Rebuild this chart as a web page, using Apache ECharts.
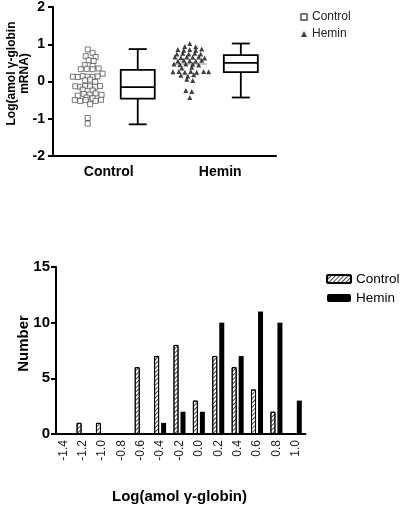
<!DOCTYPE html>
<html>
<head>
<meta charset="utf-8">
<script src="https://cdn.jsdelivr.net/npm/echarts@6/dist/echarts.min.js"></script>
<style>
html,body{margin:0;padding:0;background:#fff;}
#topChart{position:absolute;left:0;top:0;width:400px;height:230px;}
#botChart{position:absolute;left:0;top:230px;width:400px;height:276px;}
</style>
</head>
<body>
<div id="topChart"></div>
<div id="botChart"></div>
<script>
// ---------- DATA (top: individual values, x = swarm position on hidden axis) ----------
const groupNames = ['Control', 'Hemin'];
const controlPoints = [
  [7.0, 0.86], [8.0, 0.77], [6.6, 0.68], [8.6, 0.66], [7.2, 0.57], [8.2, 0.55],
  [6.4, 0.44], [8.0, 0.42], [5.6, 0.33], [6.8, 0.34], [8.0, 0.33], [9.2, 0.35],
  [10.0, 0.21], [4.0, 0.13], [5.0, 0.12], [6.0, 0.14], [7.0, 0.13], [8.0, 0.12], [9.0, 0.14],
  [6.5, 0.03], [7.5, 0.05], [8.5, -0.01],
  [4.5, -0.13], [5.5, -0.14], [6.5, -0.12], [7.5, -0.13], [8.5, -0.14], [9.5, -0.12],
  [6.0, -0.22], [8.0, -0.24],
  [5.0, -0.38], [6.2, -0.33], [7.4, -0.35], [8.6, -0.32], [9.8, -0.36], [6.8, -0.43], [8.0, -0.45],
  [4.4, -0.50], [5.5, -0.52], [6.6, -0.50], [8.6, -0.52], [9.7, -0.49], [7.5, -0.61],
  [7.0, -0.98], [7.0, -1.13]
];
const heminPoints = [
  [27.6, 1.02], [26.6, 0.94], [28.8, 0.93],
  [25.2, 0.86], [26.4, 0.84], [27.6, 0.86], [28.8, 0.84], [30.0, 0.87],
  [25.0, 0.74], [26.2, 0.76], [27.4, 0.74], [28.6, 0.76], [29.8, 0.74],
  [24.6, 0.66], [25.8, 0.64], [27.0, 0.66], [28.2, 0.65], [29.4, 0.66], [30.6, 0.63],
  [25.2, 0.55], [26.4, 0.57], [27.6, 0.56], [28.8, 0.55], [30.0, 0.57],
  [24.4, 0.47], [25.6, 0.45], [26.8, 0.47], [28.2, 0.46], [29.4, 0.44], [26.0, 0.36], [28.0, 0.38],
  [24.2, 0.26], [25.4, 0.27], [26.6, 0.25], [27.8, 0.27], [29.0, 0.25], [30.4, 0.27], [31.4, 0.26],
  [25.8, 0.17], [27.2, 0.15], [28.4, 0.18],
  [27.0, 0.06], [28.2, 0.03],
  [26.8, -0.24], [28.0, -0.27],
  [27.6, -0.43]
];
const scatterCenters = [7.0, 27.6];
const scatterMedians = [-0.13, 0.47];
// box: [x, min, Q1, median, Q3, max]
const boxData = [
  [17.1, -1.15, -0.46, -0.15, 0.31, 0.87],
  [37.9, -0.43, 0.25, 0.50, 0.71, 1.02]
];
const topYTicks = [-2, -1, 0, 1, 2];

// ---------- DATA (bottom histogram) ----------
const binLabels = ['-1.4','-1.2','-1.0','-0.8','-0.6','-0.4','-0.2','0.0','0.2','0.4','0.6','0.8','1.0'];
const controlCounts = [0, 1, 1, 0, 6, 7, 8, 3, 7, 6, 4, 2, 0];
const heminCounts   = [0, 0, 0, 0, 0, 1, 2, 2, 10, 7, 11, 10, 3];

// ---------- STYLE ----------
const FONT = 'Liberation Sans, Arial, sans-serif';
const BOX_W = 34, CAP_W = 18, LW = 1.8, MED_HALF = 3.0;

const chartTop = echarts.init(document.getElementById('topChart'), null, {renderer: 'canvas'});
chartTop.setOption({
  animation: false,
  textStyle: {fontFamily: FONT},
  legend: {
    orient: 'vertical', left: 300, top: 11, padding: 0, itemWidth: 6, itemHeight: 6, itemGap: 5, itemTextGap: 11,
    textStyle: {fontSize: 12, color: '#222', fontFamily: FONT},
    data: ['Control', 'Hemin']
  },
  grid: {left: 53, top: 7, width: 223, height: 149, outerBoundsMode: 'none', containLabel: false},
  xAxis: [
    {type: 'category', data: groupNames, boundaryGap: true,
     axisLine: {onZero: false, lineStyle: {color: '#000', width: 2}}, axisTick: {show: false},
     axisLabel: {fontSize: 14, fontWeight: 'bold', color: '#000', margin: 9}},
    {type: 'value', min: 0, max: 45, show: false}
  ],
  yAxis: {
    type: 'value', min: topYTicks[0], max: topYTicks[topYTicks.length - 1], interval: 1,
    name: 'Log(amol γ-globin\nmRNA)', nameLocation: 'middle', nameGap: 22, nameMoveOverlap: false,
    nameTextStyle: {fontSize: 12, fontWeight: 'bold', color: '#000', lineHeight: 13, padding: [0, 0, 0, 16]},
    axisLine: {show: true, lineStyle: {color: '#000', width: 2}},
    axisTick: {show: true, length: 5, lineStyle: {color: '#000', width: 2}},
    axisLabel: {fontSize: 14, fontWeight: 'bold', color: '#000', margin: 8},
    splitLine: {show: false}
  },
  series: [
    {name: 'Control', type: 'scatter', xAxisIndex: 1, data: controlPoints, symbol: 'rect', symbolSize: 5,
     itemStyle: {color: '#fff', borderColor: '#555', borderWidth: 1}, z: 3},
    {name: 'Hemin', type: 'scatter', xAxisIndex: 1, data: heminPoints, symbol: 'triangle', symbolSize: 5,
     itemStyle: {color: '#111'}, z: 3},
    {name: 'medians', type: 'line', xAxisIndex: 1, symbol: 'none', silent: true, z: 2,
     lineStyle: {color: '#888', width: 1}, connectNulls: false,
     data: [[scatterCenters[0] - MED_HALF, scatterMedians[0]], [scatterCenters[0] + MED_HALF, scatterMedians[0]], '-',
            [scatterCenters[1] - MED_HALF - 0.4, scatterMedians[1]], [scatterCenters[1] + MED_HALF + 0.4, scatterMedians[1]]]},
    {name: 'box', type: 'custom', xAxisIndex: 1, data: boxData, encode: {x: 0, y: [1, 2, 3, 4, 5]},
     renderItem: function (params, api) {
       const x = api.value(0);
       const pMin = api.coord([x, api.value(1)]);
       const pQ1 = api.coord([x, api.value(2)]);
       const pMed = api.coord([x, api.value(3)]);
       const pQ3 = api.coord([x, api.value(4)]);
       const pMax = api.coord([x, api.value(5)]);
       const cx = pMin[0], hw = BOX_W / 2, cw = CAP_W / 2;
       const st = {stroke: '#000', lineWidth: LW, fill: null};
       return {type: 'group', children: [
         {type: 'rect', shape: {x: cx - hw, y: pQ3[1], width: BOX_W, height: pQ1[1] - pQ3[1]}, style: {stroke: '#000', lineWidth: LW, fill: '#fff'}},
         {type: 'line', shape: {x1: cx - hw, y1: pMed[1], x2: cx + hw, y2: pMed[1]}, style: st},
         {type: 'line', shape: {x1: cx, y1: pQ3[1], x2: cx, y2: pMax[1]}, style: st},
         {type: 'line', shape: {x1: cx, y1: pQ1[1], x2: cx, y2: pMin[1]}, style: st},
         {type: 'line', shape: {x1: cx - cw, y1: pMax[1], x2: cx + cw, y2: pMax[1]}, style: st},
         {type: 'line', shape: {x1: cx - cw, y1: pMin[1], x2: cx + cw, y2: pMin[1]}, style: st}
       ]};
     }}
  ]
});

const chartBot = echarts.init(document.getElementById('botChart'), null, {renderer: 'canvas'});
chartBot.setOption({
  animation: false,
  textStyle: {fontFamily: FONT},
  legend: {
    orient: 'vertical', left: 326, top: 42, padding: 0, itemWidth: 24, itemHeight: 8, itemGap: 5, itemTextGap: 4,
    textStyle: {fontSize: 13.5, color: '#000', fontFamily: FONT},
    data: ['Control', 'Hemin']
  },
  grid: {left: 53.5, top: 37, width: 252, height: 167, outerBoundsMode: 'none', containLabel: false},
  xAxis: {
    type: 'category', data: binLabels,
    name: 'Log(amol γ-globin)', nameLocation: 'middle', nameGap: 55, nameMoveOverlap: false,
    nameTextStyle: {fontSize: 15, fontWeight: 'bold', color: '#000'},
    axisLine: {lineStyle: {color: '#000', width: 2}}, axisTick: {show: false},
    axisLabel: {rotate: 90, fontSize: 12, color: '#222', margin: 6, interval: 0}
  },
  yAxis: {
    type: 'value', min: 0, max: 15, interval: 5, offset: -2.5,
    name: 'Number', nameLocation: 'middle', nameGap: 25, nameMoveOverlap: false,
    nameTextStyle: {fontSize: 15, fontWeight: 'bold', color: '#000', padding: [0, 0, 0, 14]},
    axisLine: {show: true, lineStyle: {color: '#000', width: 2}},
    axisTick: {show: true, length: 5, lineStyle: {color: '#000', width: 2}},
    axisLabel: {fontSize: 15, fontWeight: 'bold', color: '#000', margin: 6},
    splitLine: {show: false}
  },
  series: [
    {name: 'Control', type: 'bar', data: controlCounts, barWidth: 5, barGap: '40%',
     itemStyle: {color: '#fff', borderColor: '#000', borderWidth: 1,
       decal: {symbol: 'rect', symbolSize: 1, color: '#444', dashArrayX: [1, 0], dashArrayY: [1, 2], rotation: -Math.PI / 4}}},
    {name: 'Hemin', type: 'bar', data: heminCounts, barWidth: 5,
     itemStyle: {color: '#000'}}
  ]
});
</script>
</body>
</html>
